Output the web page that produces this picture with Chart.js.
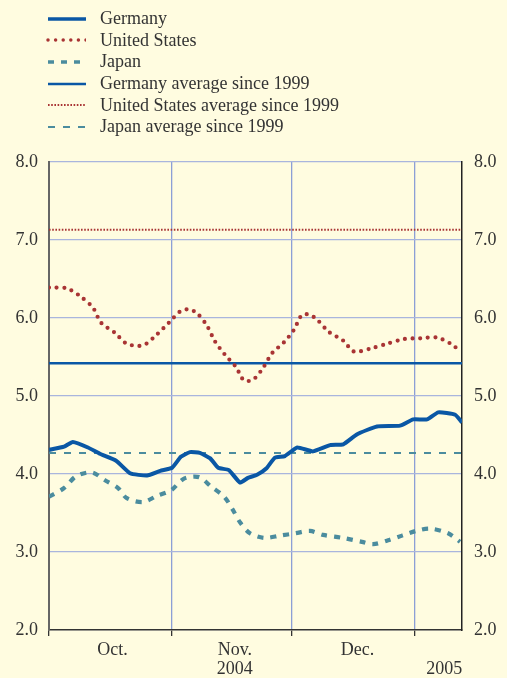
<!DOCTYPE html>
<html>
<head>
<meta charset="utf-8">
<script src="https://cdn.jsdelivr.net/npm/chart.js@4"></script>
<style>
  html, body { margin: 0; padding: 0; background: #fffce0; }
  #wrap { position: relative; width: 507px; height: 678px; }
  #legend { position: absolute; left: 46px; top: 8px; font-family: "Liberation Serif", serif; font-size: 18px; color: #333; }
  .item { height: 21.6px; display: flex; align-items: center; }
  .item svg { margin-right: 14px; }
</style>
</head>
<body>
<div id="wrap">
  <canvas id="rates" width="507" height="678"></canvas>
  <div id="legend"></div>
</div>
<script>
// x values are days counted from Oct. 1, 2004
const germanyDays = [0, 3.8, 6.0, 9.8, 12.8, 16.9, 20.4, 24.7, 28.0, 31.0, 33.2, 35.5, 38.0, 40.6, 42.6, 45.3, 48.1, 50.1, 52.4, 54.7, 56.9, 59.4, 62.5, 66.5, 70.8, 74.1, 77.6, 82.6, 88.4, 91.7, 95.2, 98.0, 102.3, 104.0];
const germanyValues = [4.31, 4.35, 4.41, 4.34, 4.26, 4.17, 4.01, 3.98, 4.04, 4.08, 4.22, 4.28, 4.27, 4.20, 4.08, 4.05, 3.89, 3.95, 3.99, 4.07, 4.21, 4.23, 4.34, 4.29, 4.37, 4.38, 4.51, 4.61, 4.62, 4.70, 4.70, 4.79, 4.76, 4.66];

const usDays = [0, 4.5, 8.1, 11.1, 13.1, 16.6, 19.6, 23.7, 27.2, 30.2, 33.2, 35.3, 37.3, 39.8, 41.8, 44.3, 47.1, 49.1, 51.4, 53.9, 56.2, 59.2, 61.7, 63.7, 65.7, 67.5, 70.5, 74.1, 76.8, 81.1, 85.1, 89.4, 93.5, 97.7, 101.5, 103.3];
const usValues = [6.39, 6.38, 6.27, 6.13, 5.94, 5.81, 5.67, 5.65, 5.79, 5.94, 6.09, 6.11, 6.06, 5.90, 5.70, 5.53, 5.37, 5.20, 5.21, 5.36, 5.55, 5.69, 5.85, 6.04, 6.04, 5.98, 5.82, 5.71, 5.57, 5.61, 5.67, 5.73, 5.74, 5.75, 5.66, 5.58];

const japanDays = [0, 3.8, 6.8, 10.8, 14.1, 17.4, 19.6, 23.7, 27.2, 30.7, 34.0, 37.8, 40.8, 44.1, 46.3, 48.1, 50.6, 54.2, 58.2, 62.0, 65.7, 69.0, 74.1, 78.8, 81.6, 85.4, 88.9, 92.4, 95.9, 100.5, 103.5];
const japanValues = [3.71, 3.82, 3.97, 4.02, 3.92, 3.82, 3.69, 3.64, 3.72, 3.79, 3.94, 3.96, 3.84, 3.71, 3.54, 3.38, 3.24, 3.18, 3.21, 3.24, 3.27, 3.22, 3.18, 3.13, 3.10, 3.15, 3.21, 3.27, 3.30, 3.24, 3.13];

// averages since 1999
const averageDays = [0, 104];
const germanyAverage = 5.42;
const usAverage = 7.13;
const japanAverage = 4.27;

// month boundaries (grid) and label positions
const monthStarts = [0, 31, 61, 92];
const xTickDays = [0, 16, 31, 46.8, 61, 77.7, 92, 99.5];
const xTickLabels = ['', 'Oct.', '', ['Nov.', '2004'], '', 'Dec.', '', ['', '2005']];
const yTicks = [2, 3, 4, 5, 6, 7, 8];

const blue = '#0a57a5';
const red = '#a93434';
const teal = '#4b8c9e';

function toPoints(xs, ys) {
    return xs.map((x, i) => ({ x: x, y: ys[i] }));
}

const serif = { family: 'Liberation Serif', size: 18 };

const chart = new Chart(document.getElementById('rates'), {
    type: 'line',
    data: {
        datasets: [
            { label: 'Germany', data: toPoints(germanyDays, germanyValues), borderColor: blue, borderWidth: 4, tension: 0.15 },
            { label: 'United States', data: toPoints(usDays, usValues), borderColor: red, borderWidth: 4.2, borderDash: [0, 7.6], borderCapStyle: 'round', tension: 0.3 },
            { label: 'Japan', data: toPoints(japanDays, japanValues), borderColor: teal, borderWidth: 4.2, borderDash: [6, 7], tension: 0.3 },
            { label: 'Germany average since 1999', data: toPoints(averageDays, [germanyAverage, germanyAverage]), borderColor: blue, borderWidth: 2.5 },
            { label: 'United States average since 1999', data: toPoints(averageDays, [usAverage, usAverage]), borderColor: red, borderWidth: 2, borderDash: [1.6, 1.6] },
            { label: 'Japan average since 1999', data: toPoints(averageDays, [japanAverage, japanAverage]), borderColor: teal, borderWidth: 2, borderDash: [7, 8] }
        ]
    },
    options: {
        responsive: false,
        animation: false,
        events: [],
        elements: { point: { radius: 0 } },
        layout: { padding: { top: 162, left: 0, right: 0, bottom: 0 } },
        plugins: {
            legend: { display: false },
            tooltip: { enabled: false }
        },
        scales: {
            x: {
                type: 'linear',
                min: 0,
                max: 104,
                afterBuildTicks: (scale) => { scale.ticks = xTickDays.map(v => ({ value: v })); },
                afterFit: (scale) => { scale.height = 48; },
                grid: {
                    color: (ctx) => monthStarts.includes(ctx.tick.value) ? '#8c9fd6' : 'transparent',
                    tickColor: (ctx) => monthStarts.includes(ctx.tick.value) ? '#333' : 'transparent',
                    tickLength: 6,
                    lineWidth: 1.3
                },
                border: { color: '#333', width: 1.5 },
                ticks: {
                    autoSkip: false,
                    maxRotation: 0,
                    padding: 5,
                    color: '#333',
                    font: { family: 'Liberation Serif', size: 18, lineHeight: 1.05 },
                    callback: (value, index) => xTickLabels[index]
                }
            },
            y: {
                position: 'left',
                min: 2,
                max: 8,
                afterBuildTicks: (scale) => { scale.ticks = yTicks.map(v => ({ value: v })); },
                afterFit: (scale) => { scale.width = 49; },
                grid: { color: (ctx) => ctx.tick.value === 2 ? '#ffffff' : '#a9b5dd', lineWidth: 1.3, drawTicks: false },
                border: { color: '#666', width: 2 },
                ticks: { padding: 11, color: '#333', font: serif, callback: (v) => v.toFixed(1) }
            },
            y2: {
                position: 'right',
                min: 2,
                max: 8,
                afterBuildTicks: (scale) => { scale.ticks = yTicks.map(v => ({ value: v })); },
                afterFit: (scale) => { scale.width = 45; },
                grid: { display: false, drawTicks: false },
                border: { color: '#222', width: 1.5 },
                ticks: { padding: 12, color: '#333', font: serif, callback: (v) => v.toFixed(1) }
            }
        }
    }
});

// html legend built from the datasets' own line styles
const legend = document.getElementById('legend');
chart.data.datasets.forEach((ds) => {
    const dash = ds.borderDash ? ds.borderDash.join(' ') : 'none';
    const cap = ds.borderCapStyle || 'butt';
    const row = document.createElement('div');
    row.className = 'item';
    row.innerHTML =
        '<svg width="40" height="8"><line x1="2" y1="4" x2="40" y2="4" stroke="' + ds.borderColor +
        '" stroke-width="' + Math.min(ds.borderWidth, 3.5) + '" stroke-dasharray="' + dash +
        '" stroke-linecap="' + cap + '"/></svg><span>' + ds.label + '</span>';
    legend.appendChild(row);
});
</script>
</body>
</html>
